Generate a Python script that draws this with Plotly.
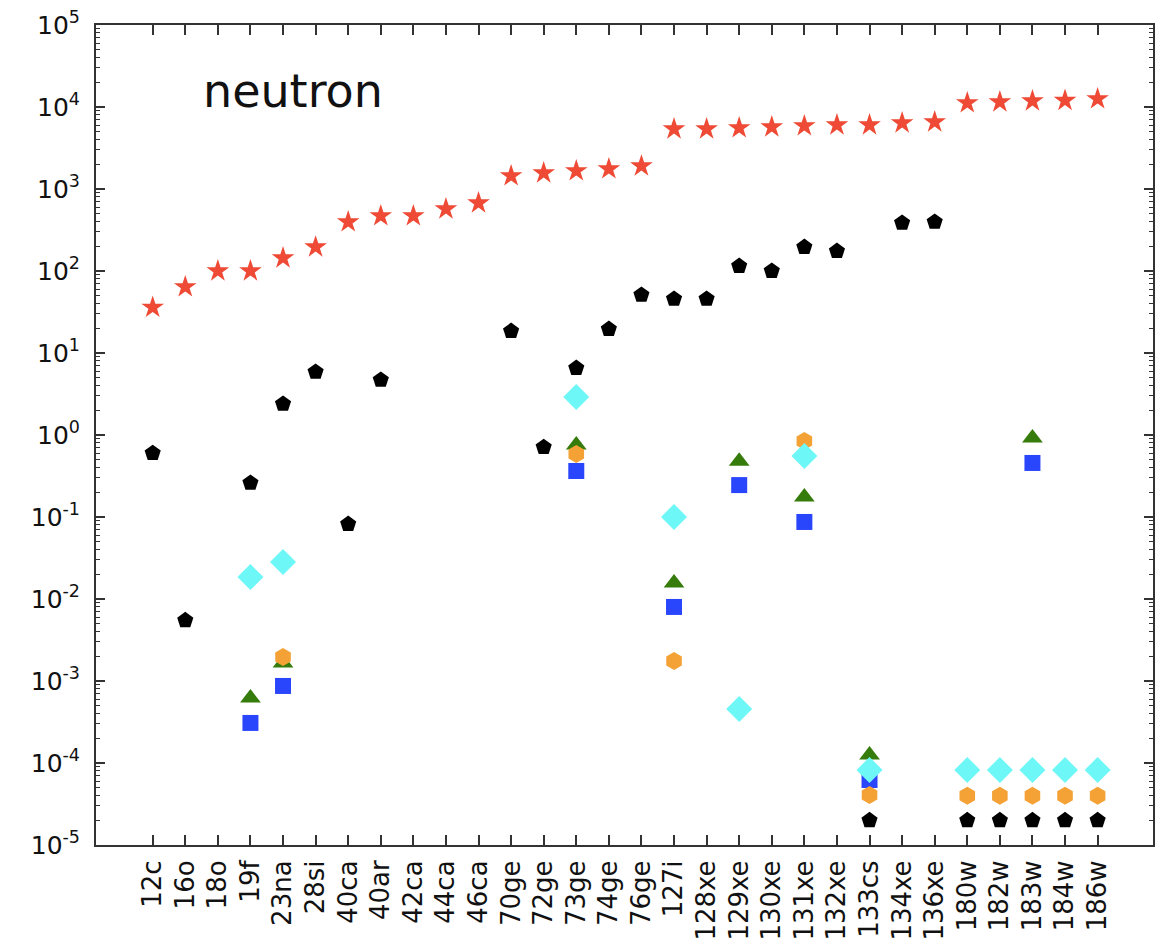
import plotly.graph_objects as go

categories = ["12c", "16o", "18o", "19f", "23na", "28si", "40ca", "40ar", "42ca", "44ca",
              "46ca", "70ge", "72ge", "73ge", "74ge", "76ge", "127i", "128xe", "129xe",
              "130xe", "131xe", "132xe", "133cs", "134xe", "136xe", "180w", "182w",
              "183w", "184w", "186w"]

N = None
red_star = [36, 64, 100, 100, 144, 196, 396, 469, 469, 570,
            675, 1442, 1567, 1660, 1754, 1906, 5390, 5390, 5550,
            5700, 5870, 6030, 6030, 6380, 6560, 11200, 11500,
            11830, 12000, 12530]
black_pent = [0.60, 0.0055, N, 0.26, 2.39, 5.87, 0.082, 4.69, N, N,
              N, 18.5, 0.71, 6.56, 19.6, 51, 45.6, 45.6, 115,
              100, 196, 175, 2.0e-5, 385, 396, 2.0e-5, 2.0e-5,
              2.0e-5, 2.0e-5, 2.0e-5]
green_tri = [N, N, N, 6.2e-4, 1.66e-3, N, N, N, N, N,
             N, N, N, 0.755, N, N, 0.0157, N, 0.48,
             N, 0.175, N, 1.25e-4, N, N, N, N,
             0.92, N, N]
blue_sq = [N, N, N, 3.08e-4, 8.7e-4, N, N, N, N, N,
           N, N, N, 0.364, N, N, 8.0e-3, N, 0.245,
           N, 0.087, N, 6.2e-5, N, N, N, N,
           0.456, N, N]
orange_hex = [N, N, N, N, 1.96e-3, N, N, N, N, N,
              N, N, N, 0.586, N, N, 1.75e-3, N, N,
              N, 0.845, N, 4.07e-5, N, N, 4.0e-5, 4.0e-5,
              4.0e-5, 4.0e-5, 4.0e-5]
cyan_dia = [N, N, N, 0.0185, 0.0283, N, N, N, N, N,
            N, N, N, 2.9, N, N, 0.1, N, 4.56e-4,
            N, 0.555, N, 8.2e-5, N, N, 8.2e-5, 8.2e-5,
            8.2e-5, 8.2e-5, 8.2e-5]

y_tick_exponents = list(range(-5, 6))

series = [
    (black_pent, "pentagon", "#000000", 17),
    (green_tri, "triangle-up", "#367c0c", 18),
    (blue_sq, "square", "#2a46fd", 16),
    (orange_hex, "hexagon", "#f4a136", 18),
    (cyan_dia, "diamond", "#6ef7f7", 20),
    (red_star, "star", "#ee4a35", 17),
]

fig = go.Figure()
for vals, sym, col, sz in series:
    fig.add_trace(go.Scatter(
        x=categories, y=vals, mode="markers",
        marker=dict(symbol=sym, color=col, size=sz, line=dict(width=0)),
        showlegend=False, cliponaxis=False,
    ))

tickvals = [10.0 ** e for e in y_tick_exponents]
ticktext = [f"10<sup>{e}</sup>" for e in y_tick_exponents]
minor_vals = [m * 10.0 ** e for e in range(-5, 5) for m in range(2, 10)]

axis_common = dict(
    showline=True, linecolor="#333333", linewidth=2, mirror="allticks",
    ticks="inside", tickcolor="#333333", showgrid=False, zeroline=False,
    automargin=False, ticklabeloverflow="allow",
)

fig.update_xaxes(
    type="category", range=[-1.74, 30.7], tickangle=-90, ticklen=10, tickwidth=1.5,
    tickfont=dict(family="DejaVu Sans", size=26, color="#111111"),
    ticklabelstandoff=3,
    **axis_common,
)
fig.update_yaxes(
    type="log", range=[-5, 5], tickvals=tickvals, ticktext=ticktext,
    ticklen=9, tickwidth=1.5,
    tickfont=dict(family="DejaVu Sans", size=25, color="#111111"),
    ticklabelstandoff=9,
    minor=dict(tickvals=minor_vals, ticks="inside", ticklen=4, tickcolor="#333333", tickwidth=1),
    **axis_common,
)

fig.add_annotation(
    text="neutron", xref="paper", yref="paper", x=0.099, y=0.919,
    xanchor="left", yanchor="middle", showarrow=False,
    font=dict(family="DejaVu Sans", size=46, color="#111111"),
)

fig.update_layout(
    width=1156, height=936,
    margin=dict(l=88, r=11, t=17, b=99),
    paper_bgcolor="white", plot_bgcolor="white",
)

fig.write_html("out.html")
